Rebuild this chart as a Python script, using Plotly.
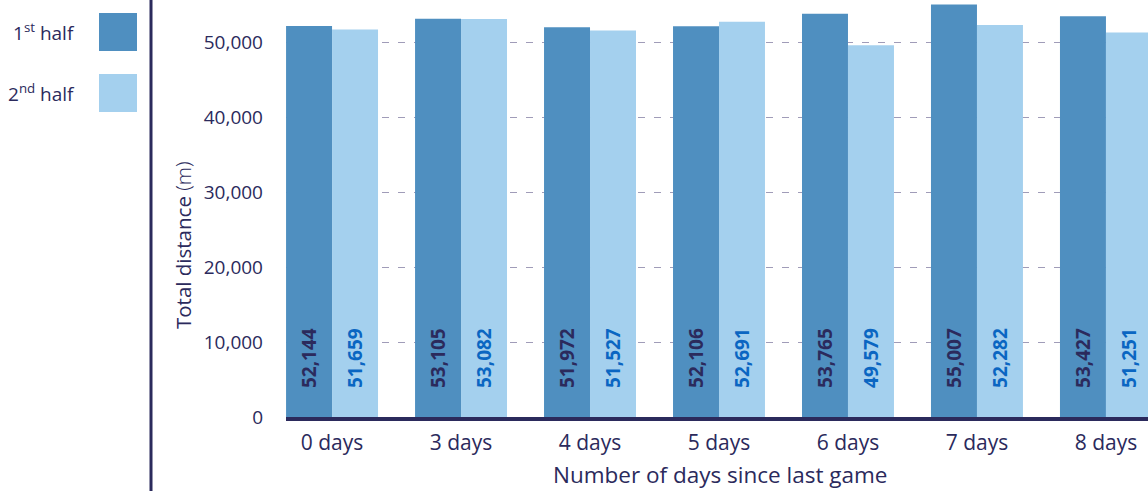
import plotly.graph_objects as go

categories = ["0 days", "3 days", "4 days", "5 days", "6 days", "7 days", "8 days"]
first_half = [52144, 53105, 51972, 52106, 53765, 55007, 53427]
second_half = [51659, 53082, 51527, 52691, 49579, 52282, 51251]
series_names = ["1<sup>st</sup> half", "2<sup>nd</sup> half"]
y_ticks = [0, 10000, 20000, 30000, 40000, 50000]

NAVY = "#2b2a5c"
C1 = "#4f8fc0"
C2 = "#a4d0ee"
LBL2 = "#0a66c2"
FONT = "Open Sans"

W, H = 1148, 491
L, R, T, B = 286, 0, 0, 74
PW, PH = W - L - R, H - T - B


def px(x):
    return (x - L) / PW


def py(y):
    return (PH + T - y) / PH


fig = go.Figure()
fig.add_trace(go.Bar(x=categories, y=first_half, name="1st half", marker=dict(color=C1, line=dict(width=0))))
fig.add_trace(go.Bar(x=categories, y=second_half, name="2nd half", marker=dict(color=C2, line=dict(width=0))))

annotations = []
label_y = 7870
for i, c in enumerate(categories):
    for vals, shift, col in ((first_half, -23, NAVY), (second_half, 23, LBL2)):
        annotations.append(dict(
            x=c, y=label_y, xref="x", yref="y", xshift=shift,
            text=f"<b>{vals[i]:,}</b>", textangle=-90, showarrow=False,
            xanchor="center", yanchor="middle",
            font=dict(family=FONT, size=19, color=col)))

# axis titles
annotations.append(dict(x=px(183), y=py(245), xref="paper", yref="paper",
                        text="Total distance <span style='font-weight:300'>(m)</span>",
                        textangle=-90, showarrow=False, xanchor="center", yanchor="middle",
                        font=dict(family=FONT, size=20.5, color=NAVY)))
annotations.append(dict(x=px(720), y=py(474), xref="paper", yref="paper",
                        text="Number of days since last game", showarrow=False,
                        xanchor="center", yanchor="middle",
                        font=dict(family=FONT, size=22.5, color=NAVY)))

# legend
shapes = []
for k, (name, col) in enumerate(zip(series_names, [C1, C2])):
    top = 13 + k * 61
    shapes.append(dict(type="rect", xref="paper", yref="paper",
                       x0=px(99), x1=px(137), y0=py(top + 38), y1=py(top),
                       fillcolor=col, line=dict(width=0)))
    annotations.append(dict(x=px(77), y=py(top + 19), xref="paper", yref="paper",
                            text=name, showarrow=False, xanchor="right", yanchor="middle",
                            font=dict(family=FONT, size=19, color=NAVY)))

# vertical separator line
shapes.append(dict(type="line", xref="paper", yref="paper",
                   x0=px(151), x1=px(151), y0=py(0), y1=py(H),
                   line=dict(color=NAVY, width=3)))

fig.update_layout(
    width=W, height=H, autosize=False,
    margin=dict(l=L, r=R, t=T, b=B, pad=0),
    paper_bgcolor="white", plot_bgcolor="white",
    barmode="group", bargap=0.287, bargroupgap=0,
    showlegend=False,
    annotations=annotations, shapes=shapes,
    font=dict(family=FONT, color=NAVY),
)
fig.update_xaxes(
    range=[-0.357, 6.326], showgrid=False, showline=True, linecolor=NAVY, linewidth=4,
    ticks="", tickfont=dict(family=FONT, size=21, color=NAVY), ticklabelstandoff=4,
    fixedrange=True,
)
fig.update_yaxes(
    range=[0, 55600], tickvals=y_ticks, ticktext=[f"{v:,}" for v in y_ticks],
    showgrid=True, gridcolor="#a09cb8", gridwidth=1, griddash="7px,9px",
    zeroline=False, showline=False, ticks="",
    tickfont=dict(family=FONT, size=19, color=NAVY), ticklabelstandoff=22,
    fixedrange=True,
)

fig.write_html("out.html", config={"displayModeBar": False},
               post_script="document.body.style.margin='0';document.body.style.overflow='hidden';")
